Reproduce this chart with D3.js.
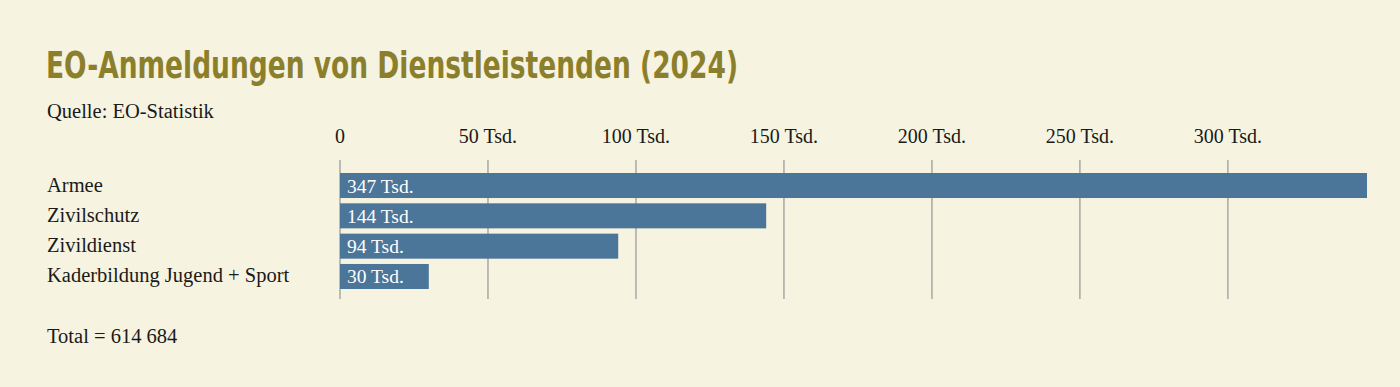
<!DOCTYPE html>
<html>
<head>
<meta charset="utf-8">
<script src="https://cdn.jsdelivr.net/npm/d3@7"></script>
<style>
  body { margin: 0; background: #f6f3e0; }
  svg { display: block; }
  text { font-family: "Liberation Serif", "DejaVu Serif", serif; fill: #1a1a1a; }
  .title { font-family: "DejaVu Sans Condensed", "Liberation Sans Narrow", sans-serif; font-weight: bold; fill: #8c7f2b; }
  .barlabel { fill: #ffffff; }
</style>
</head>
<body>
<svg></svg>
<script>
const categories = ["Armee", "Zivilschutz", "Zivildienst", "Kaderbildung Jugend + Sport"]
const values = [347, 144, 94, 30]
const tickValues = [0, 50, 100, 150, 200, 250, 300]

const svg = d3.select("svg")
  .attr("width", 1400)
  .attr("height", 387)

svg.append("rect")
  .attr("width", 1400)
  .attr("height", 387)
  .attr("fill", "#f6f3e0")

svg.append("text")
  .attr("class", "title")
  .attr("x", 46)
  .attr("y", 78)
  .attr("font-size", 38)
  .attr("textLength", 692)
  .attr("lengthAdjust", "spacingAndGlyphs")
  .text("EO-Anmeldungen von Dienstleistenden (2024)")

svg.append("text")
  .attr("x", 47)
  .attr("y", 118)
  .attr("font-size", 20.5)
  .text("Quelle: EO-Statistik")

const x = d3.scaleLinear()
  .domain([0, 347])
  .range([340, 1367])

const y = d3.scaleBand()
  .domain(categories)
  .range([173, 289])
  .paddingInner(0.175)
  .paddingOuter(0)

// gridlines + tick labels
const ticks = svg.selectAll("g.tick")
  .data(tickValues)
  .enter()
  .append("g")
  .attr("class", "tick")

ticks.append("line")
  .attr("x1", d => x(d))
  .attr("x2", d => x(d))
  .attr("y1", 160)
  .attr("y2", 299)
  .attr("stroke", "#a9a9a3")
  .attr("stroke-width", 1.5)

ticks.append("text")
  .attr("x", d => x(d))
  .attr("y", 143)
  .attr("font-size", 20)
  .attr("text-anchor", "middle")
  .text(d => d === 0 ? "0" : `${d} Tsd.`)

const rows = svg.selectAll("g.row")
  .data(categories)
  .enter()
  .append("g")
  .attr("class", "row")

rows.append("rect")
  .attr("x", x(0))
  .attr("y", d => y(d))
  .attr("width", (d, i) => x(values[i]) - x(0))
  .attr("height", y.bandwidth())
  .attr("fill", "#4b7699")

rows.append("text")
  .attr("class", "barlabel")
  .attr("x", x(0) + 7)
  .attr("y", d => y(d) + y.bandwidth() / 2 + 7)
  .attr("font-size", 19.5)
  .text((d, i) => `${values[i]} Tsd.`)

rows.append("text")
  .attr("x", 47)
  .attr("y", d => y(d) + y.bandwidth() / 2 + 6)
  .attr("font-size", 20.5)
  .text(d => d)

svg.append("text")
  .attr("x", 47)
  .attr("y", 343)
  .attr("font-size", 20.5)
  .text("Total = 614 684")
</script>
</body>
</html>
